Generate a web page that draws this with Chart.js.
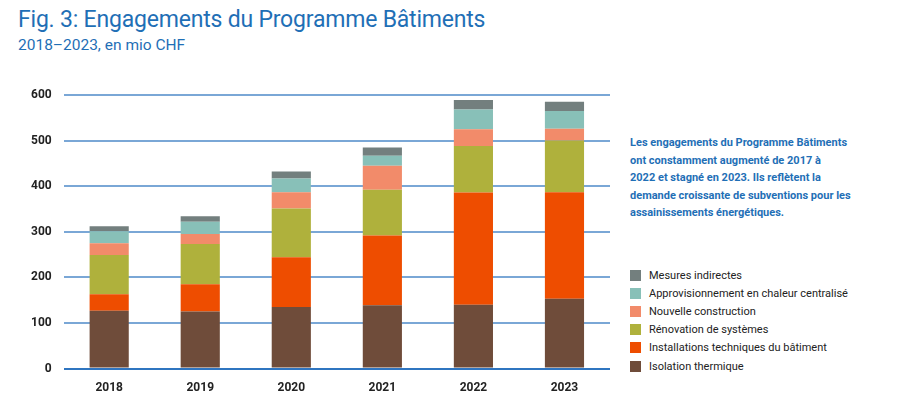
<!DOCTYPE html>
<html><head><meta charset="utf-8">
<script src="https://cdn.jsdelivr.net/npm/chart.js@4.4.1/dist/chart.umd.min.js"></script>
<style>
html,body{margin:0;padding:0;background:#fff;width:907px;height:402px;overflow:hidden;font-family:Roboto,"Liberation Sans",sans-serif;}
#title{position:absolute;left:18px;top:6px;font-size:23px;color:#1f6fb6;letter-spacing:-0.2px;}
#subtitle{position:absolute;left:18px;top:36px;font-size:15.5px;color:#1f6fb6;}
#wrap{position:absolute;left:0;top:70px;width:625px;height:337px;}
#note{position:absolute;left:630px;top:134px;font-size:11px;line-height:17.5px;color:#1f6fb6;font-weight:bold;width:270px;}
#legend{position:absolute;left:630px;top:266px;font-size:11px;color:#222;}
.li{height:18.2px;display:flex;align-items:center;}
.sw{width:11px;height:11px;margin-right:8px;}
</style></head>
<body>
<div id="title">Fig. 3: Engagements du Programme Bâtiments</div>
<div id="subtitle">2018–2023, en mio CHF</div>
<div id="wrap"><canvas id="c"></canvas></div>
<div id="note">Les engagements du Programme Bâtiments<br>ont constamment augmenté de 2017 à<br>2022 et stagné en 2023. Ils reflètent la<br>demande croissante de subventions pour les<br>assainissements énergétiques.</div>
<div id="legend"></div>
<script>
const years = ["2018","2019","2020","2021","2022","2023"];
const yTicks = [0,100,200,300,400,500,600];
const isolation = [127,125,135,139,140,153];
const installations = [36,60,109,153,246,234];
const renovation = [86,88,107,100,102,113];
const nouvelle = [26,22,36,53,37,26];
const approvisionnement = [26,27,30,22,43,39];
const mesures = [11,12,15,18,21,20];
const seriesNames = ["Isolation thermique","Installations techniques du bâtiment","Rénovation de systèmes","Nouvelle construction","Approvisionnement en chaleur centralisé","Mesures indirectes"];
const seriesColors = ["#6f4c3a","#ee4d00","#afb13c","#f28b6a","#88c0b8","#737f7e"];
const seriesData = [isolation,installations,renovation,nouvelle,approvisionnement,mesures];

const datasets = seriesData.map((d,i)=>({label:seriesNames[i],data:d,backgroundColor:seriesColors[i],borderWidth:0,categoryPercentage:1,barPercentage:0.43}));

new Chart(document.getElementById('c'),{
  type:'bar',
  data:{labels:years,datasets},
  options:{
    responsive:true,maintainAspectRatio:false,animation:false,
    layout:{padding:{left:19,right:15,top:25,bottom:0}},
    plugins:{legend:{display:false},tooltip:{enabled:false}},
    scales:{
      x:{stacked:true,grid:{display:false,drawTicks:false},border:{display:false},
         ticks:{color:"#222",font:{family:"Roboto",size:12,weight:"bold"},padding:12}},
      y:{stacked:true,min:0,max:600,afterBuildTicks:(s)=>{s.ticks=yTicks.map(v=>({value:v}));},
         grid:{color:(ctx)=>ctx.tick&&ctx.tick.value===0?"#2f75c0":"#7aa7d6",lineWidth:2,drawTicks:false},
         border:{display:false},
         ticks:{color:"#222",font:{family:"Roboto",size:12,weight:"bold"},padding:12}}
    }
  }
});
const lg=document.getElementById('legend');
for(let i=seriesNames.length-1;i>=0;i--){
  const r=document.createElement('div');r.className='li';
  r.innerHTML='<span class="sw" style="background:'+seriesColors[i]+'"></span>'+seriesNames[i];
  lg.appendChild(r);
}
</script>
</body></html>
